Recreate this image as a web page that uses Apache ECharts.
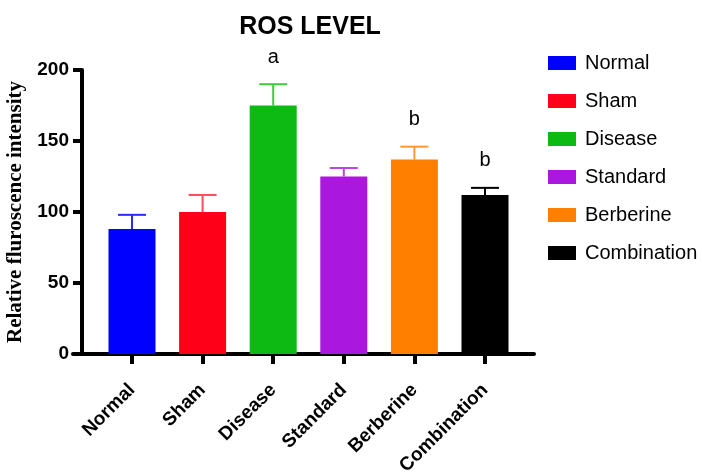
<!DOCTYPE html>
<html><head><meta charset="utf-8">
<script src="https://cdn.jsdelivr.net/npm/echarts@6/dist/echarts.min.js"></script>
<style>html,body{margin:0;padding:0;background:#fff}#c{width:702px;height:476px}</style>
</head><body><div id="c"></div>
<script>
const categories = ['Normal','Sham','Disease','Standard','Berberine','Combination'];
const means = [88, 100, 175, 125, 137, 112];
const errTops = [98, 112, 190, 131, 146, 117];
const letters = ['', '', 'a', '', 'b', 'b'];
const yTicks = [0, 50, 100, 150, 200];

const colors = ['#0000FF','#FF0019','#0DBA13','#AA18E0','#FF8000','#000000'];
const errColors = ['#2a2aff','#ff4d5e','#3ccc3f','#bb44ea','#ff9a33','#000000'];
const sans = '"Liberation Sans", Arial, sans-serif';

const chart = echarts.init(document.getElementById('c'), null, {renderer:'canvas'});

const barSeries = categories.map((c, i) => ({
  type: 'bar', name: c, xAxisIndex: 0, yAxisIndex: 0,
  data: categories.map((_, j) => j === i ? means[i] : '-'),
  barWidth: 47, barGap: '-100%',
  itemStyle: { color: colors[i] },
  emphasis: { disabled: true }
}));

const errSeries = {
  type: 'custom', xAxisIndex: 0, yAxisIndex: 0, silent: true, clip: false,
  data: categories.map((_, i) => [i, means[i], errTops[i]]),
  renderItem: function (params, api) {
    const i = api.value(0);
    const p0 = api.coord([i, api.value(1)]);
    const p1 = api.coord([i, api.value(2)]);
    const col = errColors[i];
    const children = [
      { type: 'line', shape: { x1: p0[0], y1: p0[1], x2: p1[0], y2: p1[1] }, style: { stroke: col, lineWidth: 2 } },
      { type: 'line', shape: { x1: p1[0] - 14, y1: p1[1], x2: p1[0] + 14, y2: p1[1] }, style: { stroke: col, lineWidth: 2 } }
    ];
    if (letters[i]) {
      children.push({ type: 'text', x: p1[0], y: p1[1] - 27,
        style: { text: letters[i], fill: '#000', font: '20px ' + sans, align: 'center', verticalAlign: 'middle' } });
    }
    return { type: 'group', children: children };
  }
};

chart.setOption({
  animation: false,
  title: {
    text: 'ROS LEVEL', left: 305, top: 10, textAlign: 'center',
    textStyle: { fontFamily: sans, fontWeight: 'bold', fontSize: 25, color: '#000' }
  },
  legend: {
    orient: 'vertical', left: 543, top: 48, itemWidth: 28, itemHeight: 14, itemGap: 18,
    icon: 'rect', data: categories, selectedMode: false,
    textStyle: { fontFamily: sans, fontSize: 20, color: '#000', padding: [0, 0, 0, 4] }
  },
  grid: [
    { left: 96.7, right: 181.7, top: 70, bottom: 122, containLabel: false, outerBoundsMode: 'none' },
    { left: 73, right: 168, top: 70, bottom: 122, containLabel: false, outerBoundsMode: 'none' }
  ],
  xAxis: [
    { type: 'category', gridIndex: 0, data: categories, boundaryGap: true,
      axisLine: { show: false },
      axisTick: { show: true, alignWithLabel: true, length: 10, lineStyle: { color: '#000', width: 4 } },
      axisLabel: { rotate: 45, margin: 33, fontFamily: sans, fontWeight: 'bold', fontSize: 19, color: '#000', interval: 0 },
      splitLine: { show: false } },
    { type: 'value', gridIndex: 1, min: 0, max: 1, show: true,
      axisLine: { show: true, onZero: false, lineStyle: { color: '#000', width: 4 } },
      axisTick: { show: false }, axisLabel: { show: false }, splitLine: { show: false } }
  ],
  yAxis: [
    { type: 'value', gridIndex: 0, min: yTicks[0], max: yTicks[yTicks.length - 1], interval: 50, offset: 14.7,
      axisLine: { show: true, lineStyle: { color: '#000', width: 4 } },
      axisTick: { show: true, length: 9, lineStyle: { color: '#000', width: 4 } },
      axisLabel: { margin: 13, fontFamily: sans, fontWeight: 'bold', fontSize: 19, color: '#000' },
      splitLine: { show: false },
      name: 'Relative fluroscence intensity', nameLocation: 'middle', nameGap: 52, nameRotate: 90,
      nameTextStyle: { fontFamily: '"Liberation Serif", "Times New Roman", serif', fontWeight: 'bold', fontSize: 21, color: '#000' } },
    { type: 'value', gridIndex: 1, show: false, min: 0, max: 1 }
  ],
  series: barSeries.concat([errSeries])
});
</script></body></html>
